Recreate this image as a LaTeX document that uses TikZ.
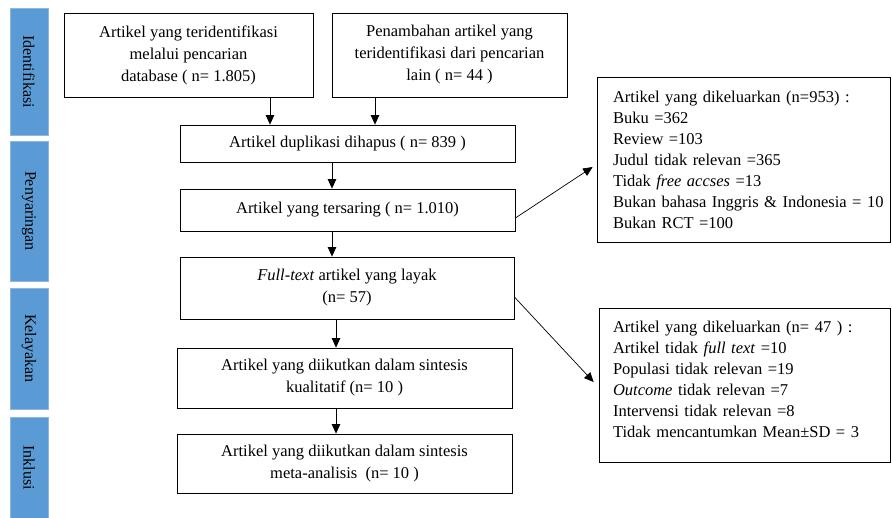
\documentclass[tikz,border=0pt]{standalone}
\usepackage{fontspec}
\setmainfont{Liberation Serif}
\usetikzlibrary{arrows.meta,shadows}
\definecolor{barblue}{HTML}{5B9BD5}
\tikzset{
  box/.style={draw=black, line width=0.8pt, fill=white, align=center, inner sep=2pt,
    font=\fontsize{16.5}{22}\selectfont,
    drop shadow={shadow xshift=1pt, shadow yshift=-1pt, fill=black!75, opacity=1}},
  listbox/.style={box, align=left, font=\fontsize{16.5}{21}\selectfont},
  bar/.style={fill=barblue, draw=barblue!70!white, line width=0.6pt, inner sep=0pt,
    minimum width=38pt},
  bartext/.style={rotate=-90, font=\fontsize{16}{16}\selectfont, inner sep=0pt},
  arr/.style={-{Triangle[length=9.5pt,width=8.5pt]}, line width=0.7pt}
}
\begin{document}
\begin{tikzpicture}[x=1pt,y=-1pt]
\useasboundingbox (0,0) rectangle (892,517);
% phase bars
\node[bar, minimum height=127pt] (b1) at (29,71.5) {};
\node[bartext] (t1) at (b1.center) {Identifikasi};
\node[bar, minimum height=140pt] (b2) at (29,211) {};
\node[bartext] (t2) at (b2.center) {Penyaringan};
\node[bar, minimum height=121pt] (b3) at (29,348.5) {};
\node[bartext] (t3) at (b3.center) {Kelayakan};
\node[bar, minimum height=101pt] (b4) at (29,467.5) {};
\node[bartext] (t4) at (b4.center) {Inklusi};
% main flow
\node[box, minimum width=249pt, minimum height=84pt] (a) at (188.5,55)
  {Artikel yang teridentifikasi\\melalui pencarian\\database ( n= 1.805)};
\node[box, minimum width=235pt, minimum height=84pt] (b) at (449.5,55)
  {Penambahan artikel yang\\teridentifikasi dari pencarian\\lain ( n= 44 )};
\node[box, minimum width=335pt, minimum height=37pt] (c) at (347.5,143.5)
  {Artikel duplikasi dihapus ( n= 839 )};
\node[box, minimum width=335pt, minimum height=42pt] (d) at (347.5,210)
  {Artikel yang tersaring ( n= 1.010)};
\node[box, minimum width=334pt, minimum height=62pt] (e) at (347,288)
  {\textit{Full-text} artikel yang layak\\(n= 57)};
\node[box, minimum width=335pt, minimum height=60pt] (f) at (344.5,378)
  {Artikel yang diikutkan dalam sintesis\\kualitatif (n= 10 )};
\node[box, minimum width=335pt, minimum height=59pt] (g) at (344.5,463.5)
  {Artikel yang diikutkan dalam sintesis\\meta-analisis~ (n= 10 )};
% exclusion boxes
\node[listbox, minimum width=293pt, minimum height=165pt, text width=261pt] (r1) at (743.5,159.5)
  {Artikel yang dikeluarkan (n=953) :\\Buku =362\\Review =103\\Judul tidak relevan =365\\Tidak \textit{free accses} =13\\\mbox{Bukan bahasa Inggris \& Indonesia = 10}\\Bukan RCT =100};
\node[listbox, minimum width=291pt, minimum height=154pt, text width=263pt] (r2) at (744.5,385)
  {Artikel yang dikeluarkan (n= 47 ) :\\Artikel tidak \textit{full text} =10\\Populasi tidak relevan =19\\\textit{Outcome} tidak relevan =7\\Intervensi tidak relevan =8\\\mbox{Tidak mencantumkan Mean±SD = 3}\\[-10pt]\mbox{}};
% connectors
\coordinate (xa) at (270,0);
\coordinate (xb) at (375,0);
\coordinate (xc) at (332,0);
\coordinate (xf) at (336,0);
\draw[arr] (a.south -| xa) -- (c.north -| xa);
\draw[arr] (b.south -| xb) -- (c.north -| xb);
\draw[arr] (c.south -| xc) -- (d.north -| xc);
\draw[arr] (d.south -| xc) -- (e.north -| xc);
\draw[arr] (e.south -| xf) -- (f.north -| xf);
\draw[arr] (f.south -| xf) -- (g.north -| xf);
\draw[arr] ([yshift=-8pt]d.east) -- ([xshift=-4pt,yshift=-7.5pt]r1.west);
\draw[arr] ([yshift=-9pt]e.east) -- ([xshift=-5pt,yshift=3pt]r2.west);
\end{tikzpicture}
\end{document}
